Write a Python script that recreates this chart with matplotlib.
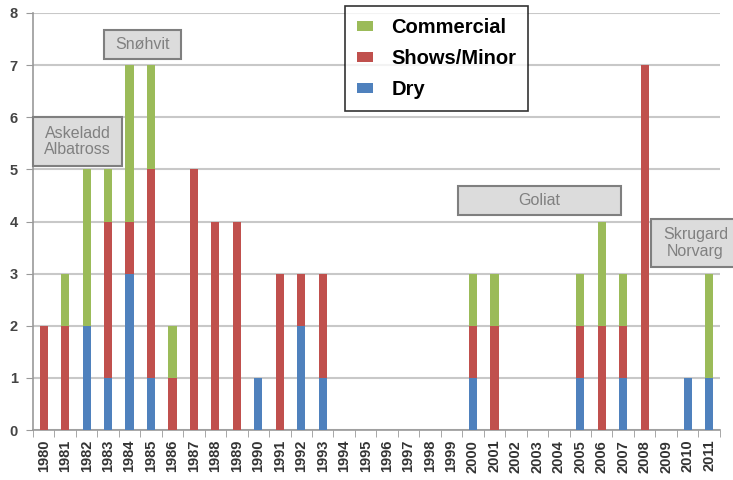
import numpy as np
import matplotlib
matplotlib.use("Agg")
import matplotlib.pyplot as plt
from matplotlib.patches import Rectangle

plt.rcParams["font.family"] = ["Liberation Sans", "DejaVu Sans"]

# Data
years = list(range(1980, 2012))
dry = [0, 0, 2, 1, 3, 1, 0, 0, 0, 0, 1, 0, 2, 1, 0, 0,
       0, 0, 0, 0, 1, 0, 0, 0, 0, 1, 0, 1, 0, 0, 1, 1]
shows = [2, 2, 0, 3, 1, 4, 1, 5, 4, 4, 0, 3, 1, 2, 0, 0,
         0, 0, 0, 0, 1, 2, 0, 0, 0, 1, 2, 1, 7, 0, 0, 0]
commercial = [0, 1, 3, 1, 3, 2, 1, 0, 0, 0, 0, 0, 0, 0, 0, 0,
              0, 0, 0, 0, 1, 1, 0, 0, 0, 1, 2, 1, 0, 0, 0, 2]

c_dry = "#4F81BD"
c_shows = "#C0504D"
c_comm = "#9BBB59"

fig = plt.figure(figsize=(7.33, 4.8), dpi=100)
ax = fig.add_axes([0.045, 0.104, 0.937, 0.869])

x = np.arange(len(years))
dry = np.array(dry)
shows = np.array(shows)
commercial = np.array(commercial)
w = 0.38
ax.bar(x, dry, w, color=c_dry, label="Dry", zorder=3)
ax.bar(x, shows, w, bottom=dry, color=c_shows, label="Shows/Minor", zorder=3)
ax.bar(x, commercial, w, bottom=dry + shows, color=c_comm,
       label="Commercial", zorder=3)

ax.set_xlim(-0.5, len(years) - 0.5)
ax.set_ylim(0, 8)
ax.set_yticks(range(0, 9))
ax.yaxis.grid(True, color="#C8C8C8", linewidth=1.5)
ax.set_axisbelow(True)
for s in ["top", "right"]:
    ax.spines[s].set_visible(False)
ax.spines["left"].set_color("#999999")
ax.spines["bottom"].set_color("#999999")
ax.spines["left"].set_linewidth(1.2)
ax.spines["bottom"].set_linewidth(1.2)

ax.set_xticks(x)
ax.set_xticklabels([str(y) for y in years], rotation=90, fontsize=10.5,
                   color="#333333", fontweight="bold")
ax.tick_params(axis="x", length=0, pad=7)
ax.set_xticks(np.arange(-0.5, len(years), 1), minor=True)
ax.tick_params(axis="x", which="minor", length=5, color="#999999")
ax.tick_params(axis="y", length=5, color="#999999", pad=6)
for lbl in ax.get_yticklabels():
    lbl.set_fontweight("bold")
    lbl.set_fontsize(10.5)
    lbl.set_color("#444444")

h, l = ax.get_legend_handles_labels()
leg = ax.legend(h[::-1], l[::-1], loc="upper left",
                bbox_to_anchor=(345 / 733, 1 - 6 / 480),
                bbox_transform=fig.transFigure, borderaxespad=0,
                prop={"size": 14.5, "weight": "bold"}, frameon=True,
                fancybox=False, edgecolor="black", handlelength=0.8,
                handleheight=0.35, labelspacing=0.6, borderpad=0.6,
                handletextpad=0.9)
leg.get_frame().set_linewidth(1.2)


def note(x0, y0, x1, y1, text):
    # box given in pixel coords (top-left origin)
    fx0, fx1 = x0 / 733, x1 / 733
    fy0, fy1 = 1 - y1 / 480, 1 - y0 / 480
    fig.patches.append(Rectangle((fx0, fy0), fx1 - fx0, fy1 - fy0,
                                 transform=fig.transFigure,
                                 facecolor="#DCDCDC", edgecolor="#7F7F7F",
                                 linewidth=1.5, zorder=5))
    fig.text((fx0 + fx1) / 2, (fy0 + fy1) / 2, text, ha="center",
             va="center", fontsize=11.5, color="#808080", zorder=6,
             linespacing=1.15)


note(104, 30, 181, 59, "Snøhvit")
note(33, 117, 122, 166, "Askeladd\nAlbatross")
note(458, 186, 621, 215, "Goliat")
note(651, 219, 740, 267, "Skrugard\nNorvarg")

fig.savefig("out.png", dpi=100)
